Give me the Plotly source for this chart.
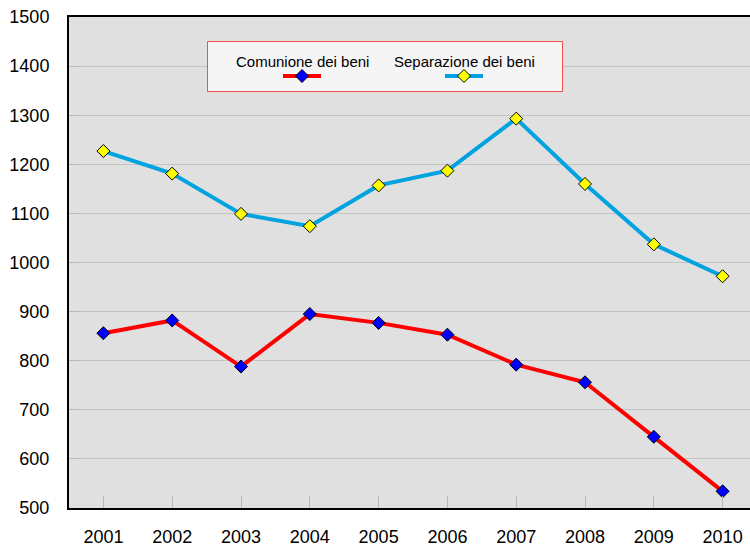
import plotly.graph_objects as go

# Annual values by property regime
years = ["2001", "2002", "2003", "2004", "2005", "2006", "2007", "2008", "2009", "2010"]
comunione = [856, 882, 788, 895, 877, 853, 792, 756, 645, 534]
separazione = [1227, 1181, 1099, 1074, 1157, 1187, 1293, 1160, 1037, 972]
series_names = ["Comunione dei beni", "Separazione dei beni"]

FONT = "Liberation Sans, Arial, sans-serif"
RED, BLUE_LINE = "#FF0000", "#00A3E0"
BLUE_MK, YELLOW_MK = "#0000FF", "#FFFF00"

W, H = 750, 546
L, T, B = 69, 17, 38

fig = go.Figure()

fig.add_trace(go.Scatter(
    x=years, y=comunione, name=series_names[0], mode="lines+markers",
    line=dict(color=RED, width=4),
    marker=dict(symbol="diamond", size=10, color=BLUE_MK, line=dict(color="black", width=1)),
    showlegend=False, cliponaxis=False,
))
fig.add_trace(go.Scatter(
    x=years, y=separazione, name=series_names[1], mode="lines+markers",
    line=dict(color=BLUE_LINE, width=4),
    marker=dict(symbol="diamond", size=10, color=YELLOW_MK, line=dict(color="black", width=1)),
    showlegend=False, cliponaxis=False,
))

# Legend box (text above, sample below) on a hidden pixel-based overlay axis
bx0, bx1, by0, by1 = 207.5, 562.5, 41.5, 91.5
fig.add_trace(go.Scatter(
    x=[bx0, bx1, bx1, bx0, bx0], y=[by0, by0, by1, by1, by0], xaxis="x2", yaxis="y2",
    mode="lines", fill="toself", fillcolor="#F5F5F5",
    line=dict(color="#F05050", width=1), showlegend=False, hoverinfo="skip",
))
legend_items = [
    (series_names[0], 302, RED, BLUE_MK),
    (series_names[1], 464, BLUE_LINE, YELLOW_MK),
]
for name, cx, lc, mc in legend_items:
    fig.add_trace(go.Scatter(
        x=[cx - 19, cx, cx + 19], y=[76, 76, 76], xaxis="x2", yaxis="y2",
        mode="lines", line=dict(color=lc, width=4), showlegend=False, hoverinfo="skip",
    ))
    fig.add_trace(go.Scatter(
        x=[cx], y=[76], xaxis="x2", yaxis="y2", mode="markers",
        marker=dict(symbol="diamond", size=10, color=mc, line=dict(color="black", width=1)),
        showlegend=False, hoverinfo="skip",
    ))
    fig.add_annotation(x=cx, y=61, xref="x2", yref="y2", text=name, showarrow=False,
                       font=dict(family=FONT, size=15, color="black"),
                       xanchor="center", yanchor="middle")

fig.update_layout(
    width=W, height=H,
    margin=dict(l=L, r=0, t=T, b=B, pad=0, autoexpand=False),
    paper_bgcolor="white", plot_bgcolor="#E0E0E0",
    font=dict(family=FONT, size=18, color="black"),
    xaxis=dict(
        type="category", range=[-0.5, 9.398], showgrid=False, automargin=False,
        showline=True, linecolor="black", linewidth=2, mirror=True,
        ticks="inside", ticklen=12, tickwidth=1, tickcolor="#B8B8B8",
        tickfont=dict(family=FONT, size=18, color="black"),
        ticklabelstandoff=11, fixedrange=True,
    ),
    yaxis=dict(
        range=[500, 1500], dtick=100, showgrid=True, gridcolor="#C4C4C4", gridwidth=1,
        showline=True, linecolor="black", linewidth=2, zeroline=False, automargin=False,
        ticks="inside", ticklen=11, tickwidth=1, tickcolor="#B8B8B8",
        tickfont=dict(family=FONT, size=18, color="black"),
        ticklabelstandoff=14, fixedrange=True,
    ),
    xaxis2=dict(overlaying="x", range=[L, W], visible=False, fixedrange=True),
    yaxis2=dict(overlaying="y", range=[H - B, T], visible=False, fixedrange=True),
)

fig.write_html("out.html")
